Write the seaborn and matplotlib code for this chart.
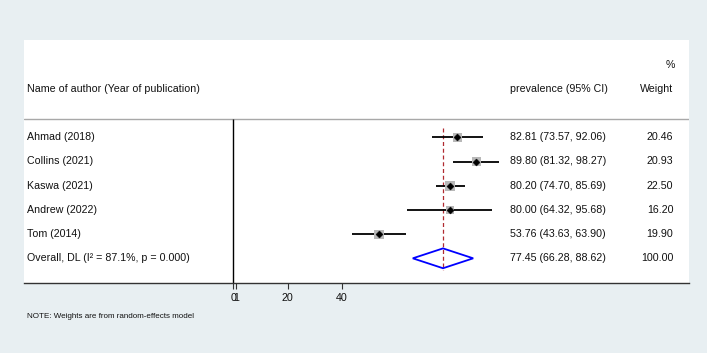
import matplotlib
matplotlib.use("Agg")
import matplotlib.pyplot as plt
import seaborn as sns
import pandas as pd
from matplotlib.patches import Polygon

# ---- data ----
authors = ["Ahmad (2018)", "Collins (2021)", "Kaswa (2021)", "Andrew (2022)", "Tom (2014)"]
prevalence = [82.81, 89.80, 80.20, 80.00, 53.76]
ci_low = [73.57, 81.32, 74.70, 64.32, 43.63]
ci_high = [92.06, 98.27, 85.69, 95.68, 63.90]
weights = [20.46, 20.93, 22.50, 16.20, 19.90]
overall_label = "Overall, DL (I\u00b2 = 87.1%, p = 0.000)"
overall_est = 77.45
overall_low = 66.28
overall_high = 88.62
overall_weight = 100.00
tick_values = [0, 1, 20, 40]
tick_labels = ["0", "1", "20", "40"]

sns.set_theme(style="white")
plt.rcParams["font.family"] = ["Liberation Sans", "DejaVu Sans"]
plt.rcParams["text.color"] = "#111111"
plt.rcParams["xtick.color"] = "#111111"

BG = "#e8eff2"
FS = 7.7
TC = "#111111"

df = pd.DataFrame({"author": authors, "est": prevalence, "lo": ci_low,
                   "hi": ci_high, "w": weights})
df["row"] = range(len(df))
n = len(df)

fig = plt.figure(figsize=(7.07, 3.53), dpi=100, facecolor=BG)
ax = fig.add_axes([24 / 707, 70 / 353, 665 / 707, 243 / 353])
ax.set_facecolor("white")
ax.set_xlim(-77.45, 168.4)
ax.set_ylim(6.02, -4.02)

# header separator and null line
header_y = -0.756
ax.axhline(header_y, color="#a8a8a8", lw=1.0, zorder=1)
ax.vlines(0, header_y, 6.02, color="black", lw=1.0, zorder=2)

# overall dashed line
ax.vlines(overall_est, -0.38, n + 0.48, color="#b02a30", lw=0.9,
          linestyles=(0, (3.2, 2.2)), zorder=2)

# CI lines
ax.hlines(df["row"], df["lo"], df["hi"], color="black", lw=1.3, zorder=3)

# weight squares
sns.scatterplot(data=df, x="est", y="row", size="w", sizes=(34, 52),
                size_norm=(16, 23), marker="s", color="#b8b8b8",
                edgecolor="none", linewidth=0, legend=False, ax=ax, zorder=4)
# centre points
sns.scatterplot(data=df, x="est", y="row", marker="D", s=13, color="black",
                edgecolor="black", legend=False, ax=ax, zorder=5)

# overall diamond
diamond = Polygon([(overall_low, n), (overall_est, n - 0.41),
                   (overall_high, n), (overall_est, n + 0.41)],
                  closed=True, fill=False, edgecolor="#0000ff", lw=1.3, zorder=6)
ax.add_patch(diamond)

# text columns
x_name = -76.3
x_ci = 102.2
x_w = 162.6
for i, r in df.iterrows():
    ax.text(x_name, r["row"], r["author"], fontsize=FS, va="center", ha="left", color=TC)
    ax.text(x_ci, r["row"], f"{r['est']:.2f} ({r['lo']:.2f}, {r['hi']:.2f})",
            fontsize=FS, va="center", ha="left", color=TC)
    ax.text(x_w, r["row"], f"{r['w']:.2f}", fontsize=FS, va="center", ha="right", color=TC)
ax.text(x_name, n, overall_label, fontsize=FS, va="center", ha="left", color=TC)
ax.text(x_ci, n, f"{overall_est:.2f} ({overall_low:.2f}, {overall_high:.2f})",
        fontsize=FS, va="center", ha="left", color=TC)
ax.text(x_w, n, f"{overall_weight:.2f}", fontsize=FS, va="center", ha="right", color=TC)

# headers
ax.text(x_name, -2.0, "Name of author (Year of publication)", fontsize=FS,
        va="center", ha="left", color=TC)
ax.text(x_ci, -2.0, "prevalence (95% CI)", fontsize=FS, va="center", ha="left", color=TC)
ax.text(x_w, -2.0, "Weight", fontsize=FS, va="center", ha="right", color=TC)
ax.text(x_w + 0.6, -2.98, "%", fontsize=FS, va="center", ha="right", color=TC)

# axes styling
for s in ["top", "left", "right"]:
    ax.spines[s].set_visible(False)
ax.spines["bottom"].set_color("#333333")
ax.spines["bottom"].set_linewidth(1.0)
ax.set_yticks([])
ax.set_xticks(tick_values, tick_labels)
ax.tick_params(axis="x", direction="out", length=4.5, width=0.8, color="#333333",
               labelsize=FS, labelcolor=TC, pad=2.5, bottom=True)
ax.set_xlabel("")
ax.set_ylabel("")

fig.text(27 / 707, 1 - 316 / 353, "NOTE: Weights are from random-effects model",
         fontsize=5.8, va="center", ha="left", color="#111111")

fig.savefig("out.png", dpi=100, facecolor=BG)
